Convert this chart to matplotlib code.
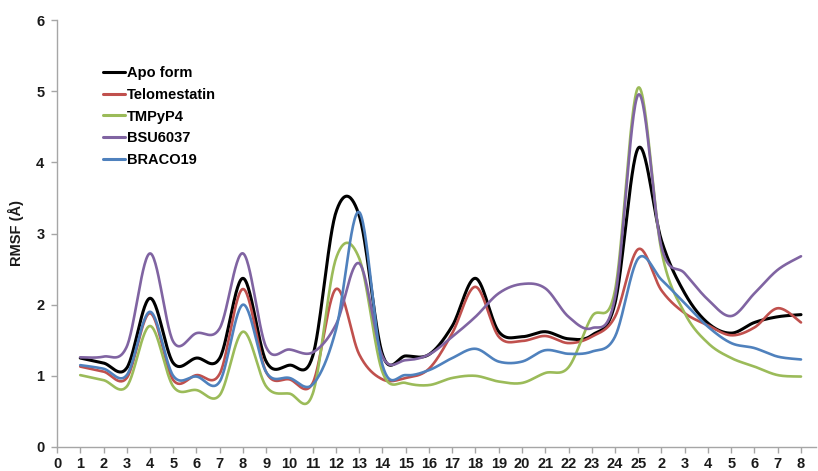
import numpy as np
import matplotlib
matplotlib.use("Agg")
import matplotlib.pyplot as plt

plt.rcParams['font.family'] = ['Liberation Sans', 'DejaVu Sans']

# Residue positions along the strand and their printed labels
positions = list(range(0, 33))
tick_labels = [str(i) for i in range(0, 26)] + [str(i) for i in range(2, 9)]

series_names = ["Apo form", "Telomestatin", "TMPyP4", "BSU6037", "BRACO19"]
series_colors = ["#000000", "#C0504D", "#9BBB59", "#8064A2", "#4F81BD"]

residues = list(range(1, 33))

apo = [1.25, 1.18, 1.11, 2.09, 1.18, 1.25, 1.25, 2.37, 1.20, 1.15, 1.28, 3.30,
       3.25, 1.30, 1.28, 1.30, 1.70, 2.37, 1.62, 1.55, 1.62, 1.52, 1.57, 2.02,
       4.20, 2.90, 2.16, 1.74, 1.60, 1.75, 1.83, 1.86]
telomestatin = [1.13, 1.06, 0.97, 1.88, 0.94, 1.01, 1.03, 2.22, 1.05, 0.95, 0.90, 2.22,
                1.30, 0.95, 0.97, 1.10, 1.60, 2.25, 1.55, 1.49, 1.56, 1.46, 1.55, 1.83,
                2.78, 2.20, 1.88, 1.71, 1.57, 1.68, 1.95, 1.75]
tmpyp4 = [1.01, 0.94, 0.85, 1.70, 0.85, 0.80, 0.73, 1.62, 0.85, 0.75, 0.75, 2.65,
          2.65, 1.05, 0.90, 0.87, 0.97, 1.00, 0.92, 0.90, 1.04, 1.12, 1.83, 2.20,
          5.05, 2.75, 1.88, 1.46, 1.25, 1.13, 1.01, 0.99]
bsu6037 = [1.26, 1.27, 1.41, 2.72, 1.48, 1.60, 1.67, 2.72, 1.40, 1.37, 1.33, 1.72,
           2.58, 1.27, 1.22, 1.30, 1.55, 1.83, 2.16, 2.29, 2.23, 1.83, 1.67, 2.10,
           4.95, 2.81, 2.44, 2.07, 1.84, 2.16, 2.49, 2.68]
braco19 = [1.15, 1.10, 1.01, 1.90, 1.00, 0.99, 0.92, 2.00, 1.05, 0.97, 0.88, 1.65,
           3.30, 1.15, 1.01, 1.08, 1.25, 1.38, 1.20, 1.20, 1.36, 1.31, 1.34, 1.55,
           2.65, 2.35, 2.02, 1.69, 1.46, 1.39, 1.27, 1.23]

all_series = [apo, telomestatin, tmpyp4, bsu6037, braco19]


def smooth_curve(x, y, n=30):
    """Bezier smoothing through every point (spreadsheet-style smoothed line)."""
    x = np.asarray(x, float)
    y = np.asarray(y, float)
    px = np.concatenate([[x[0]], x, [x[-1]]])
    py = np.concatenate([[y[0]], y, [y[-1]]])
    xs, ys = [], []
    t = np.linspace(0, 1, n, endpoint=False)
    for i in range(1, len(px) - 2):
        p0 = np.array([px[i], py[i]])
        p3 = np.array([px[i + 1], py[i + 1]])
        c1 = p0 + (np.array([px[i + 1], py[i + 1]]) - np.array([px[i - 1], py[i - 1]])) / 6.0
        c2 = p3 - (np.array([px[i + 2], py[i + 2]]) - np.array([px[i], py[i]])) / 6.0
        b = ((1 - t) ** 3)[:, None] * p0 + (3 * (1 - t) ** 2 * t)[:, None] * c1 \
            + (3 * (1 - t) * t ** 2)[:, None] * c2 + (t ** 3)[:, None] * p3
        xs.append(b[:, 0])
        ys.append(b[:, 1])
    xs.append([x[-1]])
    ys.append([y[-1]])
    return np.concatenate(xs), np.concatenate(ys)


fig = plt.figure(figsize=(8.18, 4.71), dpi=100)
ax = fig.add_axes([57 / 818, 1 - 447 / 471, (816 - 57) / 818, (447 - 20) / 471])

for name, color, vals in zip(series_names, series_colors, all_series):
    sx, sy = smooth_curve(residues, vals)
    lw = 2.2 if name == "Apo form" else 1.9
    ax.plot(sx, sy, color=color, lw=lw, label=name, solid_capstyle='round')

ax.set_xlim(0, (816 - 57) / 23.25)
ax.set_ylim(0, 6)
ax.set_xticks(positions)
ax.set_xticklabels(tick_labels)
ax.set_yticks(range(0, 7))

for side in ("top", "right"):
    ax.spines[side].set_visible(False)
for side in ("left", "bottom"):
    ax.spines[side].set_color("#a6a6a6")
    ax.spines[side].set_linewidth(1.0)

ax.tick_params(axis='both', colors="#a6a6a6", length=4, width=1.0,
               labelcolor="#1a1a1a", labelsize=10.5, direction='out')
ax.tick_params(axis='x', pad=3)
ax.tick_params(axis='y', pad=5)
for lab in ax.get_xticklabels() + ax.get_yticklabels():
    lab.set_fontweight('bold')

ax.set_ylabel("RMSF (Å)", fontsize=10.5, fontweight='bold', color="#1a1a1a", labelpad=9)

leg = ax.legend(loc='upper left', bbox_to_anchor=(0.053, 0.905), frameon=False,
                handlelength=1.5, handletextpad=0.15, labelspacing=0.52,
                prop={'weight': 'bold', 'size': 10.5}, borderaxespad=0)
for line in leg.get_lines():
    line.set_linewidth(2.2)

fig.savefig("out.png", dpi=100)
